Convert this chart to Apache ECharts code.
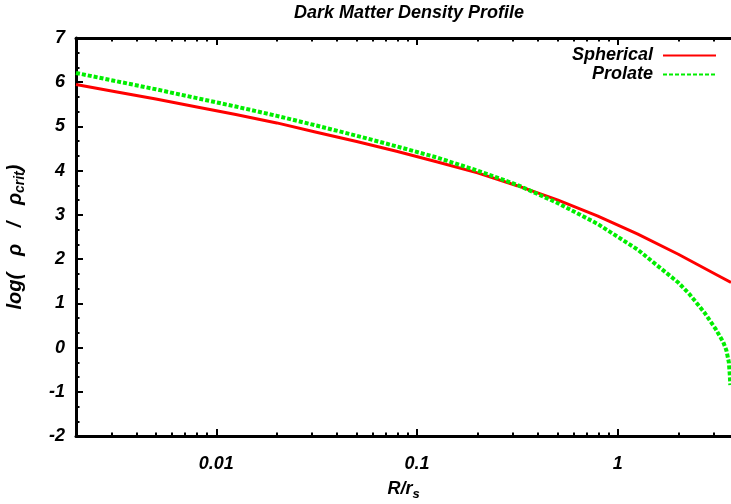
<!DOCTYPE html>
<html>
<head>
<meta charset="utf-8">
<script src="https://cdn.jsdelivr.net/npm/echarts@6/dist/echarts.min.js"></script>
<style>
  html, body { margin: 0; padding: 0; background: #fff; }
  #chart { width: 731px; height: 504px; }
</style>
</head>
<body>
<div id="chart"></div>
<script>
// Radius in units of the scale radius, log10 of density over critical density
const sphericalRadius = [0.002, 0.0032, 0.005, 0.008, 0.0125, 0.02, 0.0315, 0.05, 0.079, 0.125,
                         0.2, 0.315, 0.5, 0.79, 1.25, 2.0, 3.15, 3.66];
const sphericalDensity = [5.95, 5.78, 5.62, 5.44, 5.27, 5.08, 4.87, 4.66, 4.44, 4.20,
                          3.95, 3.66, 3.34, 2.98, 2.57, 2.11, 1.63, 1.47];

const prolateRadius = [0.002, 0.0032, 0.005, 0.008, 0.0125, 0.02, 0.0315, 0.05, 0.079, 0.125,
                       0.2, 0.315, 0.5, 0.79, 1.25, 2.0, 2.27, 2.70, 3.06, 3.35, 3.47, 3.57, 3.61, 3.63];
const prolateDensity = [6.21, 6.02, 5.84, 5.64, 5.45, 5.24, 5.02, 4.79, 4.55, 4.30,
                        4.00, 3.68, 3.27, 2.80, 2.22, 1.47, 1.21, 0.79, 0.43, 0.12, -0.06, -0.33, -0.62, -0.85];

const xMajorTicks = [0.01, 0.1, 1];
const xMinorTicks = [0.003, 0.004, 0.005, 0.006, 0.007, 0.008, 0.009,
                     0.02, 0.03, 0.04, 0.05, 0.06, 0.07, 0.08, 0.09,
                     0.2, 0.3, 0.4, 0.5, 0.6, 0.7, 0.8, 0.9,
                     2, 3];
const xMin = 0.002;
const xMax = 3.66;
const yMin = -2;
const yMax = 7;

const FONT = '"Liberation Sans", Arial, Helvetica, sans-serif';
const boldItalic = { fontFamily: FONT, fontWeight: 'bold', fontStyle: 'italic', color: '#000' };

function pairs(xs, ys) {
  return xs.map((x, i) => [x, ys[i]]);
}

function logAxis(position, ticks, tickLength, withLine, withLabels) {
  return {
    type: 'log',
    logBase: 10,
    min: xMin,
    max: xMax,
    position: position,
    axisLine: { show: withLine, onZero: false, lineStyle: { color: '#000', width: 3 } },
    axisTick: { show: true, inside: true, length: tickLength, customValues: ticks,
                lineStyle: { color: '#000', width: 2 } },
    axisLabel: withLabels
      ? Object.assign({ show: true, customValues: ticks, margin: 19, fontSize: 18,
                        formatter: v => String(v) }, boldItalic)
      : { show: false },
    splitLine: { show: false },
    minorTick: { show: false }
  };
}

const bottomAxis = logAxis('bottom', xMajorTicks, 7, true, true);
bottomAxis.name = '{n|R/r}{s|s}';
bottomAxis.nameLocation = 'middle';
bottomAxis.nameGap = 38;
bottomAxis.nameTextStyle = {
  rich: {
    n: Object.assign({ fontSize: 18, lineHeight: 20 }, boldItalic),
    s: Object.assign({ fontSize: 13, lineHeight: 20, padding: [10, 0, 0, 0] }, boldItalic)
  }
};

const chart = echarts.init(document.getElementById('chart'), null, { renderer: 'canvas' });
chart.setOption({
  backgroundColor: '#fff',
  animation: false,
  title: {
    text: 'Dark Matter Density Profile',
    left: 404,
    textAlign: 'center',
    top: -1,
    textStyle: Object.assign({ fontSize: 18 }, boldItalic)
  },
  legend: {
    data: ['Spherical', 'Prolate'],
    orient: 'vertical',
    right: 9,
    top: 41,
    align: 'right',
    itemWidth: 53,
    itemHeight: 12,
    itemGap: 0,
    itemStyle: { opacity: 0 },
    textStyle: Object.assign({ fontSize: 18, lineHeight: 19, padding: [0, 5, 0, 0] }, boldItalic)
  },
  grid: { left: 76, right: 0, top: 38, bottom: 68, containLabel: false, outerBoundsMode: 'none' },
  xAxis: [
    bottomAxis,
    logAxis('bottom', xMinorTicks, 3.5, false, false),
    logAxis('top', xMajorTicks, 7, true, false),
    logAxis('top', xMinorTicks, 3.5, false, false)
  ],
  yAxis: {
    type: 'value',
    min: yMin,
    max: yMax,
    interval: 1,
    position: 'left',
    axisLine: { show: true, onZero: false, lineStyle: { color: '#000', width: 3 } },
    axisTick: { show: true, inside: true, length: 7, lineStyle: { color: '#000', width: 2 } },
    minorTick: { show: true, splitNumber: 3, length: 3.5, lineStyle: { color: '#000', width: 2 } },
    axisLabel: Object.assign({ margin: 11, fontSize: 18 }, boldItalic),
    splitLine: { show: false },
    name: '{a|log(   ρ   /   ρ}{b|crit}{a|)}',
    nameLocation: 'middle',
    nameRotate: 90,
    nameGap: 50,
    nameTextStyle: {
      rich: {
        a: Object.assign({ fontSize: 20, lineHeight: 22 }, boldItalic),
        b: Object.assign({ fontSize: 14, lineHeight: 22, padding: [10, 0, 0, 0] }, boldItalic)
      }
    }
  },
  series: [
    {
      name: 'Spherical',
      type: 'line',
      xAxisIndex: 0,
      data: pairs(sphericalRadius, sphericalDensity),
      showSymbol: false,
      symbol: 'none',
      smooth: false,
      lineStyle: { color: '#ff0000', width: 3, join: 'round' },
      itemStyle: { color: '#ff0000' }
    },
    {
      name: 'Prolate',
      type: 'line',
      xAxisIndex: 0,
      data: pairs(prolateRadius, prolateDensity),
      showSymbol: false,
      symbol: 'none',
      smooth: false,
      lineStyle: { color: '#00ee00', width: 4, type: [4, 2], cap: 'butt' },
      itemStyle: { color: '#00ee00' }
    }
  ]
});
</script>
</body>
</html>
